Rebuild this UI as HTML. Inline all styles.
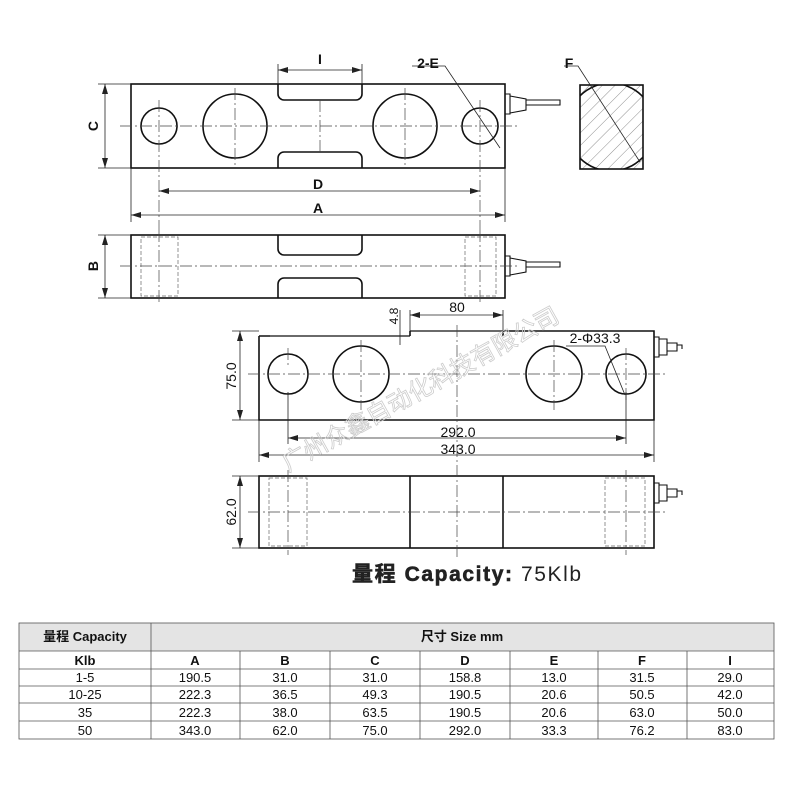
<!DOCTYPE html>
<html><head><meta charset="utf-8"><style>
body{margin:0;background:#fff;width:800px;height:800px;overflow:hidden;font-family:"Liberation Sans","Noto Sans CJK SC",sans-serif}
</style></head><body>
<svg width="800" height="800" viewBox="0 0 800 800" xmlns="http://www.w3.org/2000/svg" font-family="Liberation Sans, Noto Sans CJK SC, sans-serif">
<defs>
<marker id="a" viewBox="0 0 10 6" refX="10" refY="3" markerWidth="10" markerHeight="6" orient="auto-start-reverse" markerUnits="userSpaceOnUse"><path d="M0,0L10,3L0,6z" fill="#222"/></marker>
<clipPath id="sec"><rect x="580" y="85" width="63" height="84"/></clipPath>
<pattern id="h" width="9" height="9" patternUnits="userSpaceOnUse" patternTransform="rotate(45)"><line x1="0" y1="0" x2="0" y2="9" stroke="#444" stroke-width="0.6"/></pattern>
</defs>
<g fill="none" stroke="#111" stroke-width="1.6">
<rect x="131" y="84" width="374" height="84"/>
<circle cx="159" cy="126" r="18"/><circle cx="235" cy="126" r="32"/><circle cx="405" cy="126" r="32"/><circle cx="480" cy="126" r="18"/>
<path d="M278,84V94a6,6 0 0 0 6,6H356a6,6 0 0 0 6,-6V84"/>
<path d="M278,168V158a6,6 0 0 1 6,-6H356a6,6 0 0 1 6,6V168"/>
<path d="M505,94h5v20h-5M510,96l16,3v11l-16,3M526,100h34v5h-34" stroke-width="1.1"/>
<rect x="580" y="85" width="63" height="84" fill="url(#h)"/>
<circle cx="611" cy="127" r="44" clip-path="url(#sec)"/>
<rect x="131" y="235" width="374" height="63"/>
<path d="M278,235V249a6,6 0 0 0 6,6H356a6,6 0 0 0 6,-6V235"/>
<path d="M278,298V284a6,6 0 0 1 6,-6H356a6,6 0 0 1 6,6V298"/>
<path d="M505,256h5v20h-5M510,258l16,3v11l-16,3M526,262h34v5h-34" stroke-width="1.1"/>
<path d="M259,336V420H654V331H503V336M259,336H270M410,331V336"/>
<path d="M270,336H410M410,331H503" stroke-width="1.2"/>
<circle cx="288" cy="374" r="20"/><circle cx="361" cy="374" r="28"/><circle cx="554" cy="374" r="28"/><circle cx="626" cy="374" r="20"/>
<path d="M654,337h5v20h-5M659,339h8v16h-8M667,343h10v8h-10M677,345h5v4" stroke-width="1.1"/>
<rect x="259" y="476" width="395" height="72"/>
<line x1="410" y1="476" x2="410" y2="548"/><line x1="503" y1="476" x2="503" y2="548"/>
<path d="M654,483h5v20h-5M659,485h8v16h-8M667,489h10v8h-10M677,491h5v4" stroke-width="1.1"/>
</g>
<g fill="none" stroke="#444" stroke-width="0.7" stroke-dasharray="12,3,2,3">
<line x1="120" y1="126" x2="520" y2="126"/><line x1="159" y1="100" x2="159" y2="230"/><line x1="480" y1="100" x2="480" y2="230"/>
<line x1="235" y1="88" x2="235" y2="165"/><line x1="405" y1="88" x2="405" y2="165"/><line x1="320" y1="100" x2="320" y2="152"/>
<line x1="120" y1="266" x2="520" y2="266"/><line x1="159" y1="230" x2="159" y2="305"/><line x1="480" y1="230" x2="480" y2="305"/>
<line x1="248" y1="374" x2="665" y2="374"/><line x1="288" y1="348" x2="288" y2="368"/><line x1="361" y1="340" x2="361" y2="410"/><line x1="554" y1="340" x2="554" y2="410"/><line x1="626" y1="348" x2="626" y2="400"/><line x1="457" y1="325" x2="457" y2="560"/>
<line x1="248" y1="512" x2="665" y2="512"/><line x1="288" y1="470" x2="288" y2="555"/><line x1="626" y1="470" x2="626" y2="555"/>
</g>
<g fill="none" stroke="#666" stroke-width="0.7" stroke-dasharray="4,2">
<rect x="141" y="237" width="37" height="59"/><rect x="465" y="237" width="31" height="59"/>
<rect x="269" y="478" width="38" height="68"/><rect x="605" y="478" width="40" height="68"/>
</g>
<g stroke="#222" stroke-width="0.8" fill="none">
<path d="M278,84V64M362,84V64M131,84H98M131,168H98M131,168V222M505,168V222M288,392V444M626,392V444M259,420V462M654,420V462M259,331H232M259,420H232M259,476H232M259,548H232M131,235H98M131,298H98M410,331V310M503,331V310M400,310V345"/>
<line x1="278" y1="70" x2="362" y2="70" marker-start="url(#a)" marker-end="url(#a)"/>
<line x1="105" y1="84" x2="105" y2="168" marker-start="url(#a)" marker-end="url(#a)"/>
<line x1="159" y1="191" x2="480" y2="191" marker-start="url(#a)" marker-end="url(#a)"/>
<line x1="131" y1="215" x2="505" y2="215" marker-start="url(#a)" marker-end="url(#a)"/>
<line x1="105" y1="235" x2="105" y2="298" marker-start="url(#a)" marker-end="url(#a)"/>
<line x1="410" y1="315" x2="503" y2="315" marker-start="url(#a)" marker-end="url(#a)"/>
<line x1="240" y1="331" x2="240" y2="420" marker-start="url(#a)" marker-end="url(#a)"/>
<line x1="288" y1="438" x2="626" y2="438" marker-start="url(#a)" marker-end="url(#a)"/>
<line x1="259" y1="455" x2="654" y2="455" marker-start="url(#a)" marker-end="url(#a)"/>
<line x1="240" y1="476" x2="240" y2="548" marker-start="url(#a)" marker-end="url(#a)"/>
<path d="M412,66H445L500,148"/><path d="M564,66H578L640,162"/>
<path d="M566,346H605L625,395"/>
</g>
<text x="0" y="0" transform="translate(288,472) rotate(-29)" font-size="24" fill="none" stroke="#ccc" stroke-width="0.8">广州众鑫自动化科技有限公司</text>
<g fill="#111" font-size="14" font-weight="bold" text-anchor="middle">
<text x="320" y="64">I</text><text x="428" y="68">2-E</text><text x="569" y="68">F</text>
<text x="318" y="189">D</text><text x="318" y="213">A</text>
<text transform="translate(98,126) rotate(-90)">C</text>
<text transform="translate(98,266) rotate(-90)">B</text>
</g>
<g fill="#111" font-size="14" text-anchor="middle">
<text x="457" y="312">80</text>
<text transform="translate(398,316) rotate(-90)" font-size="12">4.8</text>
<text x="595" y="343">2-Φ33.3</text>
<text x="458" y="437">292.0</text><text x="458" y="454">343.0</text>
<text transform="translate(236,376) rotate(-90)">75.0</text>
<text transform="translate(236,512) rotate(-90)">62.0</text>
</g>
<text x="352" y="581" font-size="21" fill="#222" letter-spacing="1.6"><tspan font-weight="bold" stroke="#222" stroke-width="0.6">量程 Capacity: </tspan>75Klb</text>
<rect x="19" y="623" width="755" height="28" fill="#e4e4e4"/>
<g stroke="#555" stroke-width="0.8" fill="none">
<rect x="19" y="623" width="755" height="116"/>
<path d="M19,651H774M19,669H774M19,686H774M19,703H774M19,721H774M151,623V739M240,651V739M330,651V739M420,651V739M510,651V739M598,651V739M687,651V739"/>
</g>
<g font-size="13" fill="#111" text-anchor="middle">
<text x="85" y="641" font-weight="bold">量程 Capacity</text>
<text x="462" y="641" font-weight="bold">尺寸 Size mm</text>
<g font-weight="bold"><text x="85" y="665">Klb</text><text x="195" y="665">A</text><text x="285" y="665">B</text><text x="375" y="665">C</text><text x="465" y="665">D</text><text x="554" y="665">E</text><text x="642" y="665">F</text><text x="730" y="665">I</text></g>
<text x="85" y="682">1-5</text><text x="195" y="682">190.5</text><text x="285" y="682">31.0</text><text x="375" y="682">31.0</text><text x="465" y="682">158.8</text><text x="554" y="682">13.0</text><text x="642" y="682">31.5</text><text x="730" y="682">29.0</text>
<text x="85" y="699">10-25</text><text x="195" y="699">222.3</text><text x="285" y="699">36.5</text><text x="375" y="699">49.3</text><text x="465" y="699">190.5</text><text x="554" y="699">20.6</text><text x="642" y="699">50.5</text><text x="730" y="699">42.0</text>
<text x="85" y="717">35</text><text x="195" y="717">222.3</text><text x="285" y="717">38.0</text><text x="375" y="717">63.5</text><text x="465" y="717">190.5</text><text x="554" y="717">20.6</text><text x="642" y="717">63.0</text><text x="730" y="717">50.0</text>
<text x="85" y="735">50</text><text x="195" y="735">343.0</text><text x="285" y="735">62.0</text><text x="375" y="735">75.0</text><text x="465" y="735">292.0</text><text x="554" y="735">33.3</text><text x="642" y="735">76.2</text><text x="730" y="735">83.0</text>
</g>
</svg>
</body></html>
